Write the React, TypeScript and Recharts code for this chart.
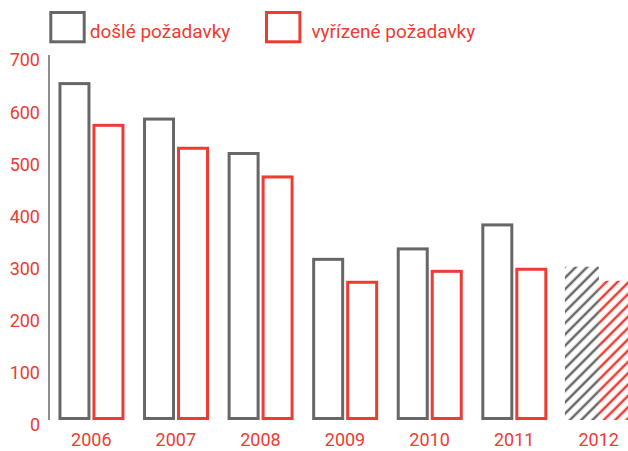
import React from 'react';
import { BarChart, Bar, XAxis, YAxis, Legend } from 'recharts';

const GRAY = '#676767';
const RED = '#ee3b33';
const FONT = 'Roboto, "DejaVu Sans", sans-serif';

const years = ['2006', '2007', '2008', '2009', '2010', '2011', '2012'];
const received = [648, 580, 514, 311, 331, 377, 294];
const resolved = [568, 524, 469, 267, 288, 292, 267];
const projected = [false, false, false, false, false, false, true];
const yTicks = [0, 100, 200, 300, 400, 500, 600, 700];
const seriesNames = ['došlé požadavky', 'vyřízené požadavky'];

const data = years.map((year, i) => ({
  year,
  received: received[i],
  resolved: resolved[i],
  projected: projected[i],
}));

function makeShape(color: string, patternId: string) {
  return (props: any) => {
    const { x, y, width, height, payload } = props;
    if (width == null || height == null || height <= 0) return <g />;
    if (payload && payload.projected) {
      return (
        <g>
          <defs>
            <pattern
              id={patternId}
              patternUnits="userSpaceOnUse"
              width={8}
              height={8}
              patternTransform="rotate(45)"
            >
              <line x1={4} y1={0} x2={4} y2={8} stroke={color} strokeWidth={2.5} />
            </pattern>
          </defs>
          <rect x={x} y={y} width={width} height={height} fill={`url(#${patternId})`} />
        </g>
      );
    }
    return (
      <rect
        x={x + 2.5}
        y={y + 1.5}
        width={Math.max(0, width - 5)}
        height={Math.max(0, height - 3)}
        fill="none"
        stroke={color}
        strokeWidth={3}
      />
    );
  };
}

const legendBoxes = [
  { rx: 50.8, tx: 89.7, color: GRAY },
  { rx: 266.5, tx: 311.4, color: RED },
];

const LegendContent = (props: any) => {
  const payload = props.payload || [];
  return (
    <svg width={628} height={55} style={{ display: 'block' }}>
      {payload.map((entry: any, i: number) => {
        const pos = legendBoxes[i] || legendBoxes[0];
        return (
          <g key={i}>
            <rect
              x={pos.rx}
              y={12.5}
              width={33.4}
              height={29.3}
              fill="none"
              stroke={pos.color}
              strokeWidth={3}
            />
            <text x={pos.tx} y={38} fill={RED} fontSize={19} fontFamily={FONT}>
              {entry.value}
            </text>
          </g>
        );
      })}
    </svg>
  );
};

const YTick = (props: any) => {
  const { x, y, payload } = props;
  return (
    <text x={x} y={y + 5} dy="0.355em" textAnchor="end" fill={RED} fontSize={18} fontFamily={FONT}>
      {payload.value}
    </text>
  );
};

const XTick = (props: any) => {
  const { x, y, payload } = props;
  return (
    <text x={x} y={y} dy="0.71em" textAnchor="middle" fill={RED} fontSize={18} fontFamily={FONT}>
      {payload.value}
    </text>
  );
};

export default function App() {
  return (
    <div
      style={{
        position: 'absolute',
        left: 0,
        top: 0,
        width: 628,
        height: 451,
        overflow: 'hidden',
        background: '#fff',
      }}
    >
      <BarChart
        width={641}
        height={451}
        data={data}
        margin={{ top: 0, right: 0, bottom: 0, left: 0 }}
        barCategoryGap="10%"
        barGap={0}
      >
        <Legend verticalAlign="top" align="left" content={<LegendContent />} />
        <XAxis
          dataKey="year"
          axisLine={false}
          tickLine={false}
          tickSize={0}
          tickMargin={13}
          height={31}
          tick={<XTick />}
          interval={0}
        />
        <YAxis
          domain={[0, 700]}
          ticks={yTicks}
          axisLine={{ stroke: GRAY, strokeWidth: 1.5 }}
          tickLine={false}
          tickSize={0}
          tickMargin={9}
          width={49}
          tick={<YTick />}
          interval={0}
        />
        <Bar
          dataKey="received"
          name={seriesNames[0]}
          fill={GRAY}
          shape={makeShape(GRAY, 'hatchGray')}
          isAnimationActive={false}
        />
        <Bar
          dataKey="resolved"
          name={seriesNames[1]}
          fill={RED}
          shape={makeShape(RED, 'hatchRed')}
          isAnimationActive={false}
        />
      </BarChart>
    </div>
  );
}
